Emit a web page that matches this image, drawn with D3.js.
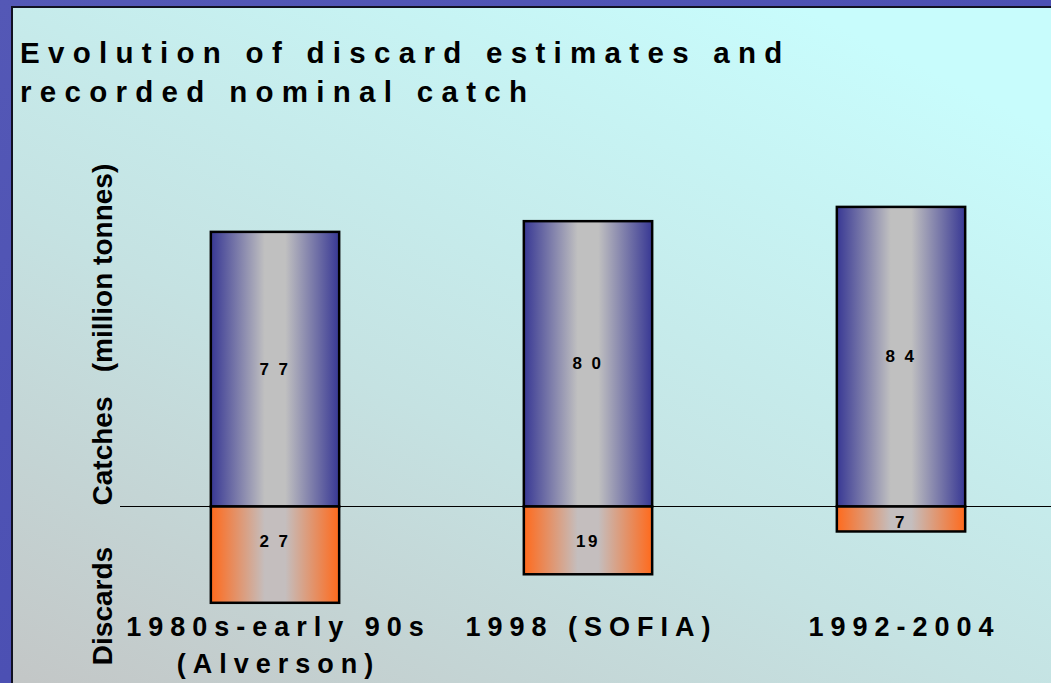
<!DOCTYPE html>
<html>
<head>
<meta charset="utf-8">
<script src="https://cdn.jsdelivr.net/npm/d3@7"></script>
<style>
  html, body { margin: 0; padding: 0; overflow: hidden; }
  text { font-family: "Liberation Sans", Arial, sans-serif; font-weight: bold; fill: #000; }
</style>
</head>
<body>
<script>
// chart values
var categories = ["1980s-early 90s", "1998 (SOFIA)", "1992-2004"];
var categoryLines = [["1980s-early 90s", "(Alverson)"], ["1998 (SOFIA)"], ["1992-2004"]];
var catches = [77, 80, 84];          // recorded nominal catch, million tonnes
var discards = [27, 19, 7];          // discard estimates, million tonnes
var catchLabels = ["7 7", "8 0", "8 4"];
var discardLabels = ["2 7", "19", "7"];
var titleLines = ["Evolution of discard estimates and", "recorded nominal catch"];
var axisLabels = ["Discards", "Catches", "(million tonnes)"];

var W = 1051, H = 683;

var svg = d3.select("body").append("svg")
    .attr("width", W)
    .attr("height", H);

var defs = svg.append("defs");

// outer slide background
var bg = defs.append("linearGradient").attr("id", "bg")
    .attr("x1", 0).attr("y1", 0).attr("x2", 1).attr("y2", 1);
bg.append("stop").attr("offset", 0).attr("stop-color", "#5458b6");
bg.append("stop").attr("offset", 1).attr("stop-color", "#4448b0");

// panel: grey bottom-left to cyan top-right
var panel = defs.append("linearGradient").attr("id", "panel")
    .attr("x1", 0).attr("y1", 1).attr("x2", 0.75).attr("y2", 0);
panel.append("stop").attr("offset", 0).attr("stop-color", "#c3c6c6");
panel.append("stop").attr("offset", 0.45).attr("stop-color", "#c5e2e2");
panel.append("stop").attr("offset", 1).attr("stop-color", "#c8fcfc");

var blue = defs.append("linearGradient").attr("id", "blueBar");
blue.append("stop").attr("offset", 0).attr("stop-color", "#383894");
blue.append("stop").attr("offset", 0.42).attr("stop-color", "#c0c0c0");
blue.append("stop").attr("offset", 0.58).attr("stop-color", "#c0c0c0");
blue.append("stop").attr("offset", 1).attr("stop-color", "#383894");

var orange = defs.append("linearGradient").attr("id", "orangeBar");
orange.append("stop").attr("offset", 0).attr("stop-color", "#ff6a1c");
orange.append("stop").attr("offset", 0.42).attr("stop-color", "#c4bebe");
orange.append("stop").attr("offset", 0.58).attr("stop-color", "#c4bebe");
orange.append("stop").attr("offset", 1).attr("stop-color", "#ff6a1c");

svg.append("rect").attr("width", W).attr("height", H).attr("fill", "url(#bg)");
svg.append("rect")
    .attr("x", 12).attr("y", 7)
    .attr("width", W).attr("height", H)
    .attr("fill", "url(#panel)")
    .attr("stroke", "#111122").attr("stroke-width", 2);

// title
svg.append("g").selectAll("text")
    .data(titleLines)
    .enter().append("text")
    .attr("x", 20)
    .attr("y", function(d, i) { return 63 + i * 39; })
    .style("font-size", "29.5px")
    .style("letter-spacing", "8.3px")
    .text(function(d) { return d; });

// scales
var x = d3.scaleBand()
    .domain(categories)
    .range([118.5, 1057.5])
    .paddingInner(0.59)
    .paddingOuter(0.295);

var y = d3.scaleLinear()
    .domain([90, -30])
    .range([185.5, 613.5]);

// zero line
svg.append("line")
    .attr("x1", 120).attr("x2", W)
    .attr("y1", y(0)).attr("y2", y(0))
    .attr("stroke", "#000").attr("stroke-width", 1);

var bars = svg.append("g");

bars.selectAll("rect.catch")
    .data(catches)
    .enter().append("rect")
    .attr("class", "catch")
    .attr("x", function(d, i) { return x(categories[i]); })
    .attr("y", function(d) { return y(d); })
    .attr("width", x.bandwidth())
    .attr("height", function(d) { return y(0) - y(d); })
    .attr("fill", "url(#blueBar)")
    .attr("stroke", "#000").attr("stroke-width", 2.5);

bars.selectAll("rect.discard")
    .data(discards)
    .enter().append("rect")
    .attr("class", "discard")
    .attr("x", function(d, i) { return x(categories[i]); })
    .attr("y", y(0))
    .attr("width", x.bandwidth())
    .attr("height", function(d) { return y(-d) - y(0); })
    .attr("fill", "url(#orangeBar)")
    .attr("stroke", "#000").attr("stroke-width", 2.5);

// value labels
bars.selectAll("text.catchLabel")
    .data(catches)
    .enter().append("text")
    .attr("class", "catchLabel")
    .attr("x", function(d, i) { return x(categories[i]) + x.bandwidth() / 2; })
    .attr("y", function(d) { return (y(d) + y(0)) / 2; })
    .attr("text-anchor", "middle")
    .attr("dominant-baseline", "central")
    .style("font-size", "17px")
    .style("letter-spacing", "2.5px")
    .text(function(d, i) { return catchLabels[i]; });

bars.selectAll("text.discardLabel")
    .data(discards)
    .enter().append("text")
    .attr("class", "discardLabel")
    .attr("x", function(d, i) { return x(categories[i]) + x.bandwidth() / 2; })
    .attr("y", function(d) { return y(0) + Math.min((y(-d) - y(0)) / 2 + 4, 35); })
    .attr("text-anchor", "middle")
    .attr("dominant-baseline", "central")
    .style("font-size", "17px")
    .style("letter-spacing", "2.5px")
    .text(function(d, i) { return discardLabels[i]; });

// category labels
var cat = svg.append("g").selectAll("text")
    .data(categories)
    .enter().append("text")
    .attr("text-anchor", "middle")
    .style("font-size", "27px")
    .style("letter-spacing", "7px");

cat.selectAll("tspan")
    .data(function(d, i) { return categoryLines[i]; })
    .enter().append("tspan")
    .attr("x", function() { return x(this.parentNode.__data__) + x.bandwidth() / 2 + 3.5; })
    .attr("y", function(d, j) { return 636 + j * 37; })
    .text(function(d) { return d; });

// rotated axis labels (centres along the left edge)
var axisLabelY = [606, 451, 268];
svg.append("g").selectAll("text")
    .data(axisLabels)
    .enter().append("text")
    .attr("transform", function(d, i) { return "translate(112," + axisLabelY[i] + ") rotate(-90)"; })
    .attr("text-anchor", "middle")
    .style("font-size", "28px")
    .text(function(d) { return d; });
</script>
</body>
</html>
